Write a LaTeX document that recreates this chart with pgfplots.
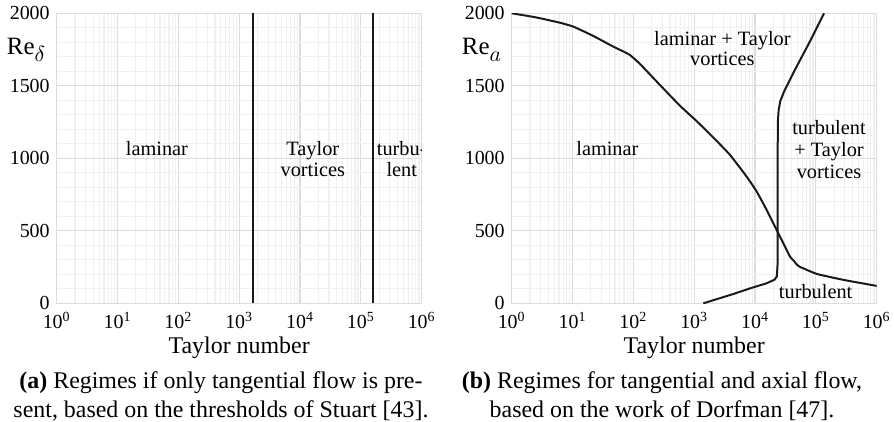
\documentclass[border=0pt]{standalone}
\usepackage{fontspec}
\setmainfont{Liberation Serif}
\usepackage{pgfplots}
\pgfplotsset{compat=1.18}
\definecolor{gmaj}{HTML}{DCDCDC}
\definecolor{gmin}{HTML}{F0F0F0}
\definecolor{curve}{HTML}{1A1A1A}
\newcommand{\lab}{\fontsize{10.2}{12}\selectfont}
\newcommand{\capfont}{\fontsize{12}{14}\selectfont}
\pgfplotsset{every axis/.append style={
  scale only axis, width=182.5bp, height=145bp,
  xmin=1, xmax=1e6, ymin=0, ymax=2000,
  xtick={1,10,100,1000,10000,100000,1000000},
  xticklabels={10\textsuperscript{0},10\textsuperscript{1},10\textsuperscript{2},10\textsuperscript{3},10\textsuperscript{4},10\textsuperscript{5},10\textsuperscript{6}},
  minor xtick={2,3,4,5,6,7,8,9,20,30,40,50,60,70,80,90,200,300,400,500,600,700,800,900,2000,3000,4000,5000,6000,7000,8000,9000,20000,30000,40000,50000,60000,70000,80000,90000,200000,300000,400000,500000,600000,700000,800000,900000},
  ytick={0,500,1000,1500,2000},
  minor ytick={100,200,300,400,600,700,800,900,1100,1200,1300,1400,1600,1700,1800,1900},
  grid=both,
  major grid style={draw=gmaj, line width=0.6bp},
  minor grid style={draw=gmin, line width=0.6bp},
  axis line style={draw=gmaj, line width=0.6bp},
  major tick style={draw=none}, minor tick style={draw=none},
  ticklabel style={font=\fontsize{10}{12}\selectfont},
  xticklabel style={yshift=-1bp, inner ysep=1bp, yshift=-2.3bp},
  yticklabel style={inner ysep=0pt},
  /pgf/number format/assume math mode=true,
  /pgf/number format/set thousands separator={},
  xlabel={Taylor number},
  xlabel style={font=\capfont, at={(axis description cs:0.5,0)}, anchor=base, yshift=-25.35bp},
}}
\begin{document}
\begin{tikzpicture}
\begin{semilogxaxis}[at={(0bp,0bp)}]
  \addplot[draw=curve, line width=1bp, mark=none] coordinates {(1708,0) (1708,2000)};
  \addplot[draw=curve, line width=1bp, mark=none] coordinates {(160000,0) (160000,2000)};
  \node[font=\lab, anchor=base] at (axis cs:44.4,1016) {laminar};
  \node[font=\lab, anchor=base] at (axis cs:16200,1016) {Taylor};
  \node[font=\lab, anchor=base] at (axis cs:16200,873) {vortices};
  \node[font=\lab, anchor=base] at (axis cs:470000,1016) {turbu-};
  \node[font=\lab, anchor=base] at (axis cs:470000,873) {lent};
\end{semilogxaxis}
\begin{semilogxaxis}[at={(227.5bp,0bp)}]
  \addplot[draw=curve, line width=1bp, mark=none, smooth, tension=0.3] coordinates {(1,2000) (2.5,1972) (6.2,1935) (10.3,1908) (21.9,1844) (46.8,1770) (70,1735) (88.1,1712) (128.8,1650) (281.8,1500) (585,1362) (1099,1256) (2065,1143) (3882,1023) (7295,873) (10666,770) (15560,643) (22700,506) (29170,414) (37580,322) (44000,290) (48420,268) (55000,250) (62230,241) (104713,202) (288403,161) (1000000,120)};
  \addplot[draw=curve, line width=1bp, mark=none] coordinates {(1413,0) (4395,64) (8279,103) (15490,138) (20900,163) (22800,185) (23400,260) (23500,900) (23700,1250) (24400,1330) (26000,1395) (30000,1460) (43700,1598) (82200,1816) (136200,2000)};
  \node[font=\lab, anchor=base] at (axis cs:2904,1781) {laminar + Taylor};
  \node[font=\lab, anchor=base] at (axis cs:2904,1637) {vortices};
  \node[font=\lab, anchor=base] at (axis cs:37.4,1016) {laminar};
  \node[font=\lab, anchor=base] at (axis cs:164400,1167) {turbulent};
  \node[font=\lab, anchor=base] at (axis cs:164400,1011) {+ Taylor};
  \node[font=\lab, anchor=base] at (axis cs:164400,862) {vortices};
  \node[font=\lab, anchor=base] at (axis cs:99300,34) {turbulent};
\end{semilogxaxis}
\node[anchor=base west, inner sep=0pt, font=\fontsize{12.5}{14}\selectfont] at (-25.1bp,124.15bp) {Re\raisebox{-0.25em}{\fontsize{10.5}{12}\selectfont$\delta$}};
\node[anchor=base west, inner sep=0pt, font=\fontsize{12.5}{14}\selectfont] at (202.4bp,124.15bp) {Re\raisebox{-0.25em}{\fontsize{10.5}{12}\selectfont$a$}};
\node[anchor=base, inner sep=0pt, font=\capfont] at (82.15bp,-42.35bp) {\textbf{(a)} Regimes if only tangential flow is pre-};
\node[anchor=base, inner sep=0pt, font=\capfont] at (82.15bp,-56.85bp) {sent, based on the thresholds of Stuart [43].};
\node[anchor=base, inner sep=0pt, font=\capfont] at (302.65bp,-42.35bp) {\textbf{(b)} Regimes for tangential and axial flow,};
\node[anchor=base, inner sep=0pt, font=\capfont] at (302.65bp,-56.85bp) {based on the work of Dorfman [47].};
\pgfresetboundingbox
\useasboundingbox (-28.35bp,-59.35bp) rectangle (418.65bp,151.65bp);
\end{tikzpicture}
\end{document}
